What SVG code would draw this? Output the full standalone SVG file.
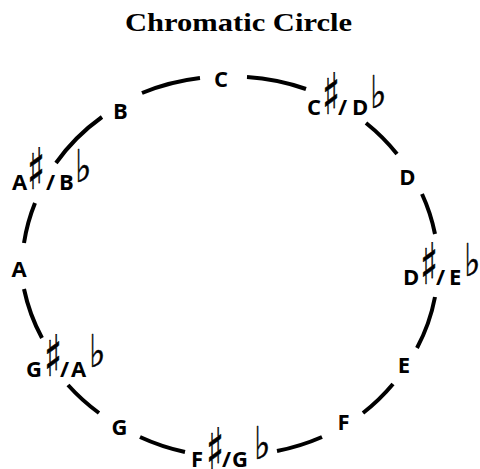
<svg xmlns="http://www.w3.org/2000/svg" width="480" height="469" viewBox="0 0 480 469">
<style>
.t{font-family:"Liberation Serif","Times New Roman",serif;font-weight:bold;font-size:25px;fill:#000}
.n{font-family:"Open Sans","DejaVu Sans",sans-serif;font-weight:bold;font-size:22px;fill:#000}
.s{font-family:"DejaVu Sans",sans-serif;font-weight:normal;font-size:57px;fill:#000;stroke:#000;stroke-width:0.6}
.f{font-family:"DejaVu Sans",sans-serif;font-weight:normal;font-size:45px;fill:#000;stroke:#000;stroke-width:0.5}
.acc{opacity:0.995}
.arc{fill:none;stroke:#000;stroke-width:4}
</style>
<rect width="480" height="469" fill="#fff"/>
<text class="t" x="238.5" y="31" text-anchor="middle" textLength="227" lengthAdjust="spacingAndGlyphs">Chromatic Circle</text>
<g id="connectors">
<path class="arc" d="M247,77 A206,190 0 0 1 306,89"/>
<path class="arc" d="M366,123 A206,190 0 0 1 397,154"/>
<path class="arc" d="M422,194 A206,190 0 0 1 435,234"/>
<path class="arc" d="M435,297 A206,190 0 0 1 417,348"/>
<path class="arc" d="M393,384 A206,190 0 0 1 363,413"/>
<path class="arc" d="M322,437 A206,190 0 0 1 277,451"/>
<path class="arc" d="M185,452 A206,190 0 0 1 140,437"/>
<path class="arc" d="M99,413 A206,190 0 0 1 68,385"/>
<path class="arc" d="M42,338 A206,190 0 0 1 24,289"/>
<path class="arc" d="M24,243 A206,190 0 0 1 35,203"/>
<path class="arc" d="M56,163 A206,190 0 0 1 102,117"/>
<path class="arc" d="M142,93 A206,190 0 0 1 200,78"/>
</g>
<g id="C"><text class="n" x="221" y="87" text-anchor="middle">C</text></g>
<g id="Csharp"><text class="n" x="307" y="115">C</text><g class="acc"><text class="s" transform="translate(322,114) scale(0.65,1)">♯</text></g><text class="n" x="338" y="115">/</text><text class="n" x="352" y="115">D</text><g class="acc"><text class="f" transform="translate(370,108) scale(0.78,1)">♭</text></g></g>
<g id="D"><text class="n" x="407.5" y="185" text-anchor="middle">D</text></g>
<g id="Dsharp"><text class="n" x="403" y="285">D</text><g class="acc"><text class="s" transform="translate(420,284) scale(0.65,1)">♯</text></g><text class="n" x="436" y="285">/</text><text class="n" x="449" y="285">E</text><g class="acc"><text class="f" transform="translate(464,276) scale(0.78,1)">♭</text></g></g>
<g id="E"><text class="n" x="404" y="373" text-anchor="middle">E</text></g>
<g id="F"><text class="n" x="343.5" y="430" text-anchor="middle">F</text></g>
<g id="Fsharp"><text class="n" x="191" y="467">F</text><g class="acc"><text class="s" transform="translate(206,469) scale(0.65,1)">♯</text></g><text class="n" x="222" y="467">/</text><text class="n" x="232" y="467">G</text><g class="acc"><text class="f" transform="translate(254,459) scale(0.78,1)">♭</text></g></g>
<g id="G"><text class="n" x="119.5" y="435" text-anchor="middle">G</text></g>
<g id="Gsharp"><text class="n" x="26" y="377">G</text><g class="acc"><text class="s" transform="translate(44,376) scale(0.65,1)">♯</text></g><text class="n" x="60" y="377">/</text><text class="n" x="71" y="377">A</text><g class="acc"><text class="f" transform="translate(89,367) scale(0.78,1)">♭</text></g></g>
<g id="A"><text class="n" x="19" y="277" text-anchor="middle">A</text></g>
<g id="Asharp"><text class="n" x="12" y="190">A</text><g class="acc"><text class="s" transform="translate(27,189) scale(0.65,1)">♯</text></g><text class="n" x="46" y="190">/</text><text class="n" x="59" y="190">B</text><g class="acc"><text class="f" transform="translate(75,182) scale(0.78,1)">♭</text></g></g>
<g id="B"><text class="n" x="120.5" y="119" text-anchor="middle">B</text></g>
</svg>
